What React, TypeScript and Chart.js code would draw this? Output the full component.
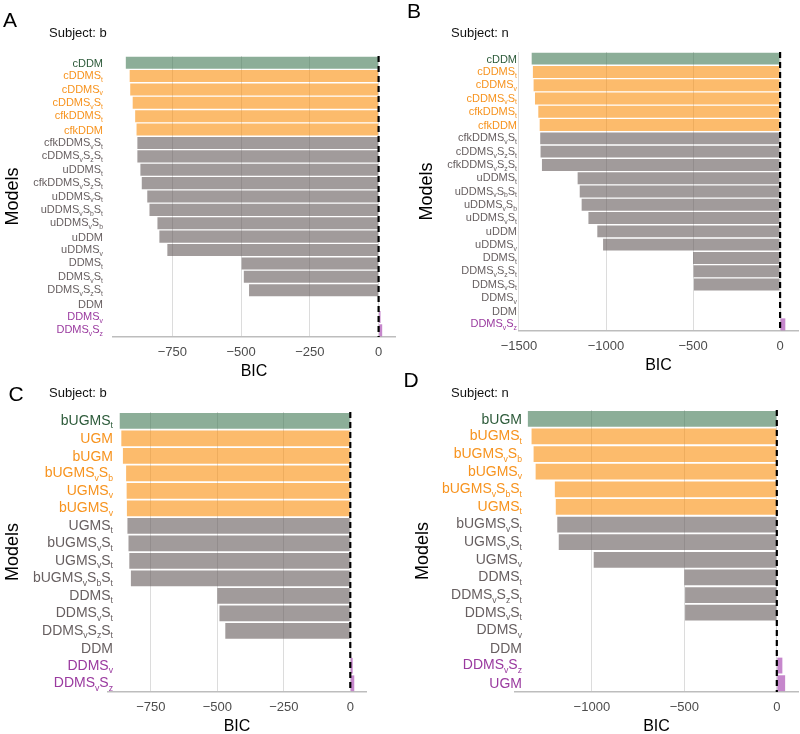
import React, { useEffect, useRef } from 'react';
import { Chart, registerables } from 'chart.js';
Chart.register(...registerables);

const FONT = "'Liberation Sans', Arial, Helvetica, sans-serif";
Chart.defaults.font.family = FONT;

// ---------- DATA ----------
// Panel A (Subject: b)
const labelsA = ['cDDM', 'cDDMS_t', 'cDDMS_v', 'cDDMS_vS_t', 'cfkDDMS_t', 'cfkDDM', 'cfkDDMS_vS_t', 'cDDMS_vS_zS_t', 'uDDMS_t', 'cfkDDMS_vS_zS_t', 'uDDMS_vS_t', 'uDDMS_vS_bS_t', 'uDDMS_vS_b', 'uDDM', 'uDDMS_v', 'DDMS_t', 'DDMS_vS_t', 'DDMS_vS_zS_t', 'DDM', 'DDMS_v', 'DDMS_vS_z'];
const valuesA = [-919, -905, -903, -894, -885, -880, -877, -877, -866, -861, -841, -833, -804, -797, -768, -498, -490, -471, 0, 7, 13];
const groupsA = ['best', 'near', 'near', 'near', 'near', 'near', 'other', 'other', 'other', 'other', 'other', 'other', 'other', 'other', 'other', 'other', 'other', 'other', 'other', 'worse', 'worse'];
const ticksA = [-750, -500, -250, 0];

// Panel B (Subject: n)
const labelsB = ['cDDM', 'cDDMS_t', 'cDDMS_v', 'cDDMS_vS_t', 'cfkDDMS_t', 'cfkDDM', 'cfkDDMS_vS_t', 'cDDMS_vS_zS_t', 'cfkDDMS_vS_zS_t', 'uDDMS_t', 'uDDMS_vS_bS_t', 'uDDMS_vS_b', 'uDDMS_vS_t', 'uDDM', 'uDDMS_v', 'DDMS_t', 'DDMS_vS_zS_t', 'DDMS_vS_t', 'DDMS_v', 'DDM', 'DDMS_vS_z'];
const valuesB = [-1427, -1420, -1416, -1408, -1389, -1381, -1378, -1376, -1368, -1163, -1151, -1140, -1101, -1050, -1017, -500, -497, -495, -2, 0, 30];
const groupsB = ['best', 'near', 'near', 'near', 'near', 'near', 'other', 'other', 'other', 'other', 'other', 'other', 'other', 'other', 'other', 'other', 'other', 'other', 'other', 'other', 'worse'];
const ticksB = [-1500, -1000, -500, 0];

// Panel C (Subject: b)
const labelsC = ['bUGMS_t', 'UGM', 'bUGM', 'bUGMS_vS_b', 'UGMS_v', 'bUGMS_v', 'UGMS_t', 'bUGMS_vS_t', 'UGMS_vS_t', 'bUGMS_vS_bS_t', 'DDMS_t', 'DDMS_vS_t', 'DDMS_vS_zS_t', 'DDM', 'DDMS_v', 'DDMS_vS_z'];
const valuesC = [-867, -861, -855, -843, -841, -840, -838, -834, -831, -825, -500, -492, -470, 0, 9, 15];
const groupsC = ['best', 'near', 'near', 'near', 'near', 'near', 'other', 'other', 'other', 'other', 'other', 'other', 'other', 'other', 'worse', 'worse'];
const ticksC = [-750, -500, -250, 0];

// Panel D (Subject: n)
const labelsD = ['bUGM', 'bUGMS_t', 'bUGMS_vS_b', 'bUGMS_v', 'bUGMS_vS_bS_t', 'UGMS_t', 'bUGMS_vS_t', 'UGMS_vS_t', 'UGMS_v', 'DDMS_t', 'DDMS_vS_zS_t', 'DDMS_vS_t', 'DDMS_v', 'DDM', 'DDMS_vS_z', 'UGM'];
const valuesD = [-1346, -1326, -1315, -1304, -1200, -1195, -1187, -1179, -990, -500, -496, -496, -2, 0, 30, 45];
const groupsD = ['best', 'near', 'near', 'near', 'near', 'near', 'other', 'other', 'other', 'other', 'other', 'other', 'other', 'other', 'worse', 'worse'];
const ticksD = [-1000, -500, 0];

// ---------- STYLE ----------
const BASE: Record<string, number[]> = {
  best: [63, 120, 83],
  near: [250, 142, 10],
  other: [98, 88, 89],
  worse: [160, 55, 170],
};
const LABEL: Record<string, string> = {
  best: '#2c5a39',
  near: '#f7931e',
  other: '#675f60',
  worse: '#9a3a9f',
};
const rgba = (g: string, a: number) => `rgba(${BASE[g].join(',')},${a})`;
const fmt = (v: number) => (v < 0 ? '\u2212' + Math.abs(v) : String(v));

const AXIS_H = 40.8;

function parseMarkup(s: string) {
  const segs: { t: string; sub: boolean }[] = [];
  let cur = '';
  for (let i = 0; i < s.length; i++) {
    if (s[i] === '_' && i + 1 < s.length) {
      if (cur) segs.push({ t: cur, sub: false });
      cur = '';
      segs.push({ t: s[i + 1], sub: true });
      i++;
    } else cur += s[i];
  }
  if (cur) segs.push({ t: cur, sub: false });
  return segs;
}

function drawRich(ctx: CanvasRenderingContext2D, markup: string, xRight: number, yCenter: number, size: number, color: string) {
  const segs = parseMarkup(markup);
  const subSize = size * 0.62;
  const hasSub = segs.some((s) => s.sub);
  const widths = segs.map((s) => {
    ctx.font = `${s.sub ? subSize : size}px ${FONT}`;
    return ctx.measureText(s.t).width;
  });
  const total = widths.reduce((a, b) => a + b, 0);
  let x = xRight - total;
  const base = yCenter + size * 0.36 - (hasSub ? size * 0.08 : 0);
  ctx.fillStyle = color;
  ctx.textBaseline = 'alphabetic';
  ctx.textAlign = 'left';
  segs.forEach((s, i) => {
    ctx.font = `${s.sub ? subSize : size}px ${FONT}`;
    ctx.fillText(s.t, x, s.sub ? base + size * 0.26 : base);
    x += widths[i];
  });
}

type PanelCfg = {
  left: number; top: number; width: number; height: number;
  area: { left: number; right: number; top: number; bottom: number };
  letter: string; letterX: number; letterY: number;
  subject: string; subjectX: number; subjectY: number;
  modelsX: number; labelRight: number; labelSize: number;
  labels: string[]; values: number[]; groups: string[]; ticks: number[];
};

const PANELS: PanelCfg[] = [
  {
    left: 0, top: 0, width: 400, height: 385,
    area: { left: 113, right: 395, top: 56, bottom: 337 },
    letter: 'A', letterX: 10, letterY: 21, subject: 'Subject: b', subjectX: 49, subjectY: 33,
    modelsX: 13.5, labelRight: 103, labelSize: 11,
    labels: labelsA, values: valuesA, groups: groupsA, ticks: ticksA,
  },
  {
    left: 400, top: 0, width: 400, height: 385,
    area: { left: 119, right: 398, top: 52, bottom: 331 },
    letter: 'B', letterX: 14, letterY: 12, subject: 'Subject: n', subjectX: 51, subjectY: 33,
    modelsX: 27, labelRight: 117, labelSize: 11,
    labels: labelsB, values: valuesB, groups: groupsB, ticks: ticksB,
  },
  {
    left: 0, top: 360, width: 400, height: 374,
    area: { left: 108, right: 366, top: 52, bottom: 332 },
    letter: 'C', letterX: 16, letterY: 35, subject: 'Subject: b', subjectX: 49, subjectY: 33,
    modelsX: 13, labelRight: 113, labelSize: 14,
    labels: labelsC, values: valuesC, groups: groupsC, ticks: ticksC,
  },
  {
    left: 400, top: 360, width: 400, height: 374,
    area: { left: 115, right: 398, top: 50, bottom: 332 },
    letter: 'D', letterX: 11, letterY: 21, subject: 'Subject: n', subjectX: 51, subjectY: 33,
    modelsX: 23, labelRight: 122, labelSize: 14,
    labels: labelsD, values: valuesD, groups: groupsD, ticks: ticksD,
  },
];

function Panel({ cfg }: { cfg: PanelCfg }) {
  const ref = useRef<HTMLCanvasElement>(null);
  useEffect(() => {
    if (!ref.current) return;
    const dmin = Math.min(...cfg.values, 0);
    const dmax = Math.max(...cfg.values, 0);
    const pad = (dmax - dmin) * 0.05;

    const overlay = {
      id: 'overlay',
      afterDatasetsDraw(chart: any) {
        const { ctx, chartArea, scales } = chart;
        const px = scales.x.getPixelForValue(0);
        ctx.save();
        ctx.strokeStyle = '#000';
        ctx.lineWidth = 2.2;
        ctx.setLineDash([6, 4]);
        ctx.beginPath();
        ctx.moveTo(px, chartArea.top);
        ctx.lineTo(px, chartArea.bottom);
        ctx.stroke();
        ctx.restore();
      },
      afterDraw(chart: any) {
        const { ctx, chartArea, scales } = chart;
        ctx.save();
        // panel letter
        ctx.fillStyle = '#000';
        ctx.font = `21px ${FONT}`;
        ctx.textAlign = 'center';
        ctx.textBaseline = 'middle';
        ctx.fillText(cfg.letter, cfg.letterX, cfg.letterY);
        // subject title
        ctx.font = `13px ${FONT}`;
        ctx.textAlign = 'left';
        ctx.fillStyle = '#111';
        ctx.fillText(cfg.subject, cfg.subjectX, cfg.subjectY);
        // y title
        ctx.save();
        ctx.translate(cfg.modelsX, (chartArea.top + chartArea.bottom) / 2);
        ctx.rotate(-Math.PI / 2);
        ctx.font = `18px ${FONT}`;
        ctx.textAlign = 'center';
        ctx.textBaseline = 'middle';
        ctx.fillStyle = '#000';
        ctx.fillText('Models', 0, 0);
        ctx.restore();
        // category labels
        cfg.labels.forEach((lab, i) => {
          const y = scales.y.getPixelForValue(i);
          drawRich(ctx, lab, cfg.labelRight, y, cfg.labelSize, LABEL[cfg.groups[i]]);
        });
        ctx.restore();
      },
    };

    const chart = new Chart(ref.current, {
      type: 'bar',
      data: {
        labels: cfg.labels,
        datasets: [
          {
            data: cfg.values,
            backgroundColor: cfg.groups.map((g) => rgba(g, 0.6)),
            borderWidth: 0,
            barPercentage: 0.9,
            categoryPercentage: 1,
          },
        ],
      },
      options: {
        indexAxis: 'y',
        responsive: false,
        animation: false,
        layout: {
          padding: {
            left: cfg.area.left,
            right: cfg.width - cfg.area.right,
            top: cfg.area.top,
            bottom: cfg.height - cfg.area.bottom - AXIS_H,
          },
        },
        plugins: { legend: { display: false }, tooltip: { enabled: false } },
        scales: {
          x: {
            type: 'linear',
            min: dmin - pad,
            max: dmax + pad,
            afterBuildTicks: (s: any) => {
              s.ticks = cfg.ticks.map((v) => ({ value: v }));
            },
            grid: { color: '#dcdcdc', lineWidth: 1, drawTicks: false },
            border: { display: true, color: '#bdbdbd', width: 1.5 },
            ticks: {
              padding: 8,
              color: '#4d4d4d',
              font: { size: 13, family: FONT },
              callback: (v: any) => fmt(Number(v)),
            },
            title: {
              display: true,
              text: 'BIC',
              color: '#000',
              font: { size: 16, family: FONT },
              padding: { top: -7, bottom: -3 },
            },
          },
          y: { type: 'category', display: false, offset: true, grid: { display: false } },
        },
      },
      plugins: [overlay],
    } as any);
    return () => chart.destroy();
  }, [cfg]);
  return (
    <canvas
      ref={ref}
      width={cfg.width}
      height={cfg.height}
      style={{ position: 'absolute', left: cfg.left, top: cfg.top, width: cfg.width, height: cfg.height }}
    />
  );
}

export default function App() {
  return (
    <div style={{ position: 'fixed', left: 0, top: 0, width: 800, height: 734, background: '#fff', overflow: 'hidden' }}>
      {PANELS.map((p) => (
        <Panel key={p.letter} cfg={p} />
      ))}
    </div>
  );
}
